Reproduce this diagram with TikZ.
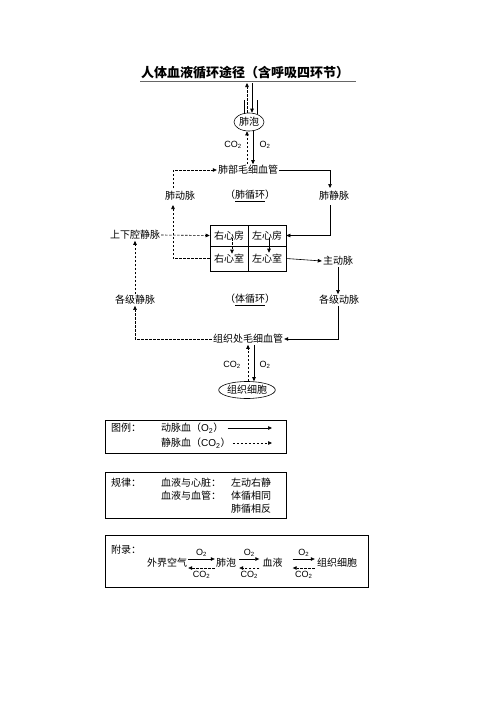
\documentclass[tikz,border=0pt]{standalone}
\usepackage{fontspec}
\setmainfont{Noto Sans CJK SC}
\newfontfamily\lsf{Liberation Sans}
\usetikzlibrary{arrows.meta,shapes.geometric}
\newcommand{\COtwo}{{\lsf CO\textsubscript{2}}}
\newcommand{\Otwo}{{\lsf O\textsubscript{2}}}
\begin{document}
\begin{tikzpicture}[x=1pt,y=-1pt,
  lbl/.style={inner sep=1pt,font=\fontsize{10}{12}\selectfont},
  gas/.style={inner sep=1pt,font=\fontsize{9}{11}\selectfont},
  cell/.style={draw,line width=0.6pt,minimum width=38pt,inner sep=0pt,font=\fontsize{10}{12}\selectfont},
  oval/.style={draw,ellipse,line width=0.6pt,inner sep=0pt,font=\fontsize{10}{12}\selectfont},
  sol/.style={-{Triangle[length=4pt,width=3.5pt]},line width=0.6pt},
  das/.style={sol,dash pattern=on 2.5pt off 1.5pt},
  frame/.style={draw,line width=0.7pt}]
\path[use as bounding box] (0,0) rectangle (496,702);

% title
\node[inner sep=0pt,font=\fontsize{13}{15}\bfseries\selectfont] (title) at (245,73) {人体血液循环途径（含呼吸四环节）};
\draw[line width=1pt,black!60] (140,81) -- (356,81);

% alveolus
\node[oval,minimum width=30pt,minimum height=18pt] (alv) at (249,122) {肺泡};
\coordinate (airUp) at (247,83);
\coordinate (airDn) at (252,83);
\draw[das] (alv.north -| airUp) -- (airUp);
\draw[sol] (airDn) -- (alv.north -| airDn);
\coordinate (wallL) at (244,100);
\coordinate (wallR) at (257,100);
\draw[line width=0.6pt] (wallL) -- ++(0,14);
\draw[line width=0.6pt] (wallR) -- ++(0,14);

\node[gas] (co2a) at (233,145) {\COtwo};
\node[gas] (o2a) at (265,145) {\Otwo};

\node[lbl] (fbmx) at (248,170) {肺部毛细血管};
\coordinate (xa) at (247,0);
\coordinate (xb) at (253,0);
\draw[das] (fbmx.north -| xa) -- (alv.south -| xa);
\draw[sol] (alv.south -| xb) -- (fbmx.north -| xb);

% pulmonary circulation
\node[lbl] (fdm) at (180,196) {肺动脉};
\node[lbl] (fxh) at (250,196) {（\underline{肺循环}）};
\node[lbl] (fjm) at (334,196) {肺静脉};
\coordinate (fdmTop) at (173,188);
\coordinate (fdmBot) at (173,205);
\coordinate (fjmTop) at (330,188);
\coordinate (fjmBot) at (330,205);
\draw[das] (fdmTop) |- (fbmx.west);
\draw[sol] (fbmx.east) -| (fjmTop);

% heart
\node[cell,minimum height=21pt] (ra) at (229,235.5) {右心房};
\node[cell,minimum height=21pt] (la) at (267,235.5) {左心房};
\node[cell,minimum height=25pt] (rv) at (229,258.5) {右心室};
\node[cell,minimum height=25pt] (lv) at (267,258.5) {左心室};
\draw[das] ([xshift=3pt,yshift=8pt]ra.south) -- ([xshift=3pt,yshift=-8pt]rv.north);
\draw[sol] ([xshift=2pt,yshift=8pt]la.south) -- ([xshift=2pt,yshift=-7pt]lv.north);

\node[lbl] (sxq) at (135,235) {上下腔静脉};
\draw[das] (sxq.east) -- (ra.west);
\draw[das] (rv.west) -| (fdmBot);
\draw[sol] (fjmBot) |- (la.east);

\node[lbl] (zdm) at (338,261) {主动脉};
\draw[sol] (lv.east) -- (zdm.west);

% systemic circulation
\node[lbl] (gjjm) at (135,300) {各级静脉};
\node[lbl] (txh) at (250,300) {（\underline{体循环}）};
\node[lbl] (gjdm) at (339,300) {各级动脉};
\draw[sol] (zdm.south) -- (zdm.south |- gjdm.north);

\node[lbl] (zzmx) at (248,339) {组织处毛细血管};
\draw[sol] ([xshift=-1pt]gjdm.south) |- (zzmx.east);
\draw[das] (zzmx.west) -| (gjjm.south);
\draw[das] (gjjm.north) -- (sxq.south);

\node[gas] (co2b) at (232,365) {\COtwo};
\node[gas] (o2b) at (265,365) {\Otwo};
\node[oval,minimum width=44pt,minimum height=17pt] (zzxb) at (247,390) {组织细胞};
\coordinate (xc) at (248,0);
\coordinate (xd) at (254,0);
\draw[das] (zzxb.north -| xc) -- (zzmx.south -| xc);
\draw[sol] (zzmx.south -| xd) -- (zzxb.north -| xd);

% legend
\node[frame,minimum width=181pt,minimum height=33pt,inner sep=0pt] (box1) at (195.5,436.5) {};
\node[lbl,anchor=west] (tl) at (110,428) {图例：};
\node[lbl,anchor=west] (art) at (160,428) {动脉血（\Otwo）};
\node[lbl,anchor=west] (ven) at (160,443) {静脉血（\COtwo）};
\coordinate (a1) at (272,428);
\coordinate (a2) at (272,443);
\draw[sol] ([xshift=3pt]art.east) -- (a1);
\draw[das] ([xshift=1pt]ven.east) -- (a2);

% rules
\node[frame,minimum width=181pt,minimum height=46pt,inner sep=0pt] (box2) at (195.5,495) {};
\node[lbl,anchor=west] (gl) at (110,483) {规律：};
\node[lbl,anchor=west] (r1) at (160,483) {血液与心脏：};
\node[lbl,anchor=west] (r2) at (160,496) {血液与血管：};
\node[lbl,anchor=west] (r3) at (230,483) {左动右静};
\node[lbl,anchor=west] (r4) at (230,496) {体循相同};
\node[lbl,anchor=west] (r5) at (230,509) {肺循相反};

% appendix
\node[frame,minimum width=263pt,minimum height=52pt,inner sep=0pt] (box3) at (236.5,561) {};
\node[lbl,anchor=west] (fl) at (110,550) {附录：};
\node[lbl] (p1) at (167,563) {外界空气};
\node[lbl] (p2) at (226,563) {肺泡};
\node[lbl] (p3) at (272.5,563) {血液};
\node[lbl] (p4) at (337,563) {组织细胞};
\draw[sol] ([yshift=4pt]p1.east) -- node[gas,above=1.5pt]{\Otwo} ([yshift=4pt]p2.west);
\draw[das] ([yshift=-5pt]p2.west) -- node[gas,below=2pt]{\COtwo} ([yshift=-5pt]p1.east);
\draw[sol] ([yshift=4pt,xshift=2pt]p2.east) -- node[gas,above=1.5pt]{\Otwo} ([yshift=4pt,xshift=-2pt]p3.west);
\draw[das] ([yshift=-5pt,xshift=-2pt]p3.west) -- node[gas,below=2pt]{\COtwo} ([yshift=-5pt,xshift=2pt]p2.east);
\draw[sol] ([yshift=4pt,xshift=9pt]p3.east) -- node[gas,above=1.5pt]{\Otwo} ([yshift=4pt,xshift=-1pt]p4.west);
\draw[das] ([yshift=-5pt,xshift=-1pt]p4.west) -- node[gas,below=2pt]{\COtwo} ([yshift=-5pt,xshift=9pt]p3.east);
\end{tikzpicture}
\end{document}
